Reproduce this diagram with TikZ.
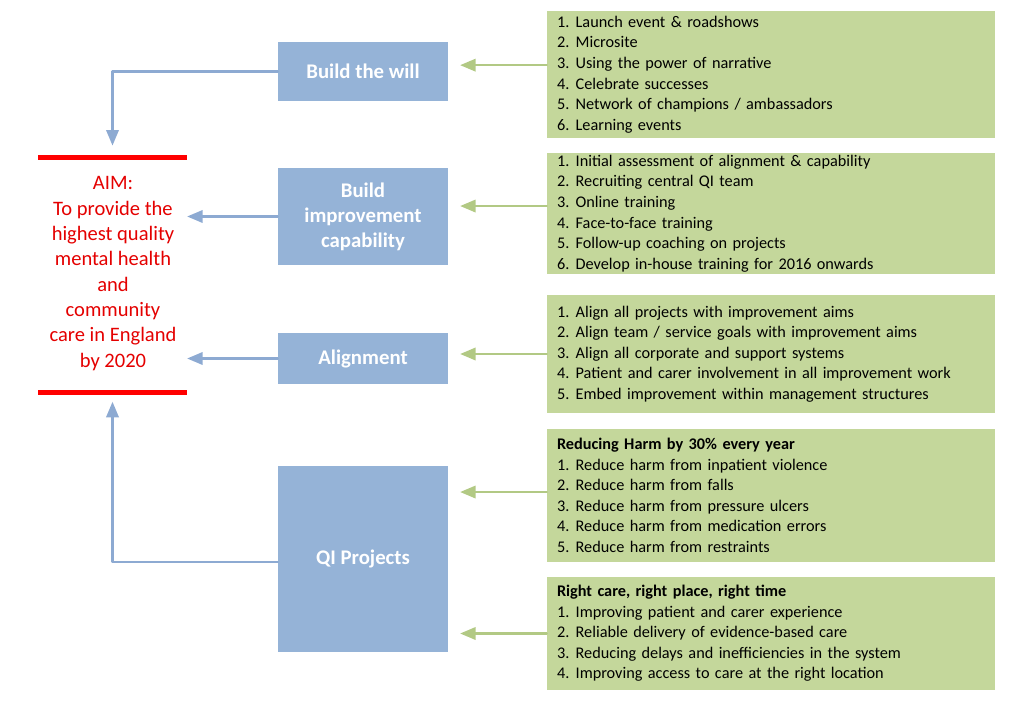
\documentclass[tikz,border=0pt]{standalone}
\usepackage{fontspec}
\setmainfont{Carlito}
\usepackage{pgf,tikz}
\usetikzlibrary{arrows}
\definecolor{boxblue}{RGB}{149,179,215}
\definecolor{arrblue}{RGB}{141,170,210}
\definecolor{boxgreen}{RGB}{196,215,155}
\definecolor{arrgreen}{RGB}{178,201,132}
\definecolor{aimred}{RGB}{228,0,0}
\newcommand{\nr}[1]{\makebox[14pt][l]{#1.}}

\begin{document}
\begin{tikzpicture}[line cap=round,line join=round,>=triangle 45,x=0.75pt,y=-0.75pt,
  bluebox/.style={fill=boxblue,minimum width=127.5pt,text=white,align=center,inner sep=0pt,
    font=\bfseries\fontsize{15.6}{18.8}\selectfont},
  greenbox/.style={fill=boxgreen,text width=321pt,inner xsep=7.5pt,inner ysep=0pt,align=left,
    font=\fontsize{12.2}{15.4}\selectfont},
  redbar/.style={fill=red,minimum width=111.75pt,minimum height=3.75pt,inner sep=0pt},
  bluearrow/.style={->,draw=arrblue,line width=1.7pt},
  greenarrow/.style={->,draw=arrgreen,line width=1.7pt,shorten >=9pt}]

\useasboundingbox (0,0) rectangle (1024,709);

% aim
\node[redbar] (topbar) at (112.5,157.5) {};
\node[redbar] (botbar) at (112.5,392.5) {};
\node[text=aimred,align=center,font=\fontsize{15.4}{19}\selectfont] (aim) at (113,273.5)
  {AIM:\\To provide the\\highest quality\\mental health\\and\\community\\care in England\\by 2020};

% drivers
\node[bluebox,minimum height=44.25pt] (will) at (363,71.5) {Build the will};
\node[bluebox,minimum height=72.75pt] (cap) at (363,216.5) {Build\\improvement\\capability};
\node[bluebox,minimum height=38.25pt] (align) at (363,358.5) {Alignment};
\node[bluebox,minimum height=139.5pt] (qi) at (363,559) {QI Projects};

% change ideas
\node[greenbox,minimum height=95.25pt] (g1) at (771,74.5) {\nr1Launch event \& roadshows\\
  \nr2Microsite\\
  \nr3Using the power of narrative\\
  \nr4Celebrate successes\\
  \nr5Network of champions / ambassadors\\
  \nr6Learning events};
\node[greenbox,minimum height=90.75pt] (g2) at (771,213.5) {\nr1Initial assessment of alignment \& capability\\
  \nr2Recruiting central QI team\\
  \nr3Online training\\
  \nr4Face-to-face training\\
  \nr5Follow-up coaching on projects\\
  \nr6Develop in-house training for 2016 onwards};
\node[greenbox,minimum height=88.5pt] (g3) at (771,354) {\nr1Align all projects with improvement aims\\
  \nr2Align team / service goals with improvement aims\\
  \nr3Align all corporate and support systems\\
  \nr4Patient and carer involvement in all improvement work\\
  \nr5Embed improvement within management structures};
\node[greenbox,minimum height=99.75pt] (g4) at (771,495.5) {\textbf{Reducing Harm by 30\% every year}\\
  \nr1Reduce harm from inpatient violence\\
  \nr2Reduce harm from falls\\
  \nr3Reduce harm from pressure ulcers\\
  \nr4Reduce harm from medication errors\\
  \nr5Reduce harm from restraints};
\node[greenbox,minimum height=84.75pt] (g5) at (771,633.5) {\textbf{Right care, right place, right time}\\
  \nr1Improving patient and carer experience\\
  \nr2Reliable delivery of evidence-based care\\
  \nr3Reducing delays and inefficiencies in the system\\
  \nr4Improving access to care at the right location};

% arrows into the aim
\draw[bluearrow] (will.west) -| ([yshift=7pt]topbar.north);
\draw[bluearrow] (cap.west) -- (cap.west -| topbar.east);
\draw[bluearrow] (align.west) -- (align.west -| botbar.east);
\draw[bluearrow] ([yshift=-2.5pt]qi.west) -| ([yshift=-5pt]botbar.south);

% arrows into the drivers
\draw[greenarrow] ([yshift=7pt]g1.west) -- ([yshift=7pt]g1.west -| will.east);
\draw[greenarrow] ([yshift=5.6pt]g2.west) -- ([yshift=5.6pt]g2.west -| cap.east);
\draw[greenarrow] (g3.west) -- (g3.west -| align.east);
\draw[greenarrow] ([yshift=2.6pt]g4.west) -- ([yshift=2.6pt]g4.west -| qi.east);
\draw[greenarrow] (g5.west) -- (g5.west -| qi.east);

\end{tikzpicture}
\end{document}
